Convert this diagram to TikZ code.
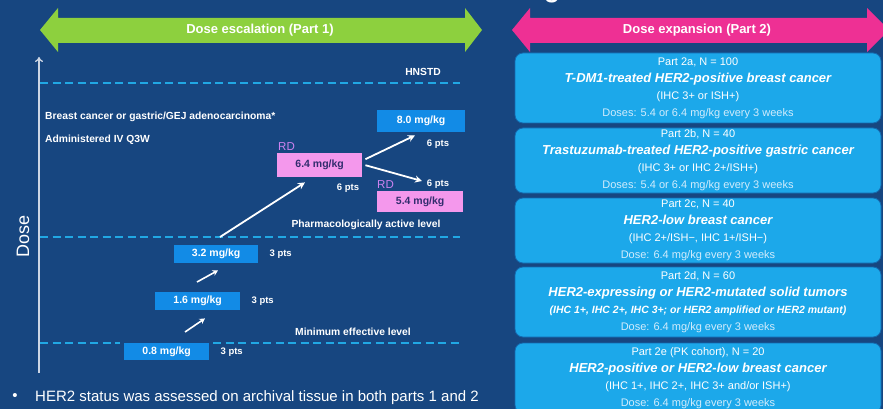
\documentclass[tikz,border=0pt]{standalone}
\usepackage{fontspec}
\setmainfont{Liberation Sans}
\usepackage{xcolor}
\usetikzlibrary{positioning, arrows.meta}

\definecolor{slidebg}{RGB}{23,70,128}
\definecolor{escgreen}{RGB}{141,208,62}
\definecolor{exppink}{RGB}{238,48,148}
\definecolor{levelblue}{RGB}{33,168,228}
\definecolor{doseblue}{RGB}{18,139,230}
\definecolor{rdpink}{RGB}{244,152,236}
\definecolor{rdtext}{RGB}{50,45,110}
\definecolor{rdviolet}{RGB}{205,130,240}
\definecolor{axisgrey}{RGB}{205,214,228}
\definecolor{cohortblue}{RGB}{28,168,234}
\definecolor{cohortedge}{RGB}{20,105,175}
\definecolor{doselight}{RGB}{210,236,252}

\newcommand{\fsz}[1]{\fontsize{#1}{17}\selectfont}
\newcommand{\ctitle}[1]{{\bfseries\itshape\fsz{13}#1}}
\newcommand{\cdose}[1]{{\color{doselight}#1}}

\begin{document}
\begin{tikzpicture}[x=1pt, y=-1pt]
    % Styles
    \tikzstyle{banner}=[text=white, font=\bfseries\fsz{13}, inner sep=0pt]
    \tikzstyle{level line}=[levelblue, line width=2.5pt, dash pattern=on 8pt off 4.5pt]
    \tikzstyle{note}=[text=white, font=\bfseries\fsz{10.3}, inner sep=0pt]
    \tikzstyle{dosebox}=[fill=doseblue, text=white, font=\bfseries\fsz{10.5}, inner sep=0pt, anchor=north west]
    \tikzstyle{rdbox}=[dosebox, fill=rdpink, text=rdtext]
    \tikzstyle{pts}=[text=white, font=\bfseries\fsz{9.5}, inner sep=0pt]
    \tikzstyle{rd}=[text=rdviolet, font=\fsz{11.5}, inner sep=0pt]
    \tikzstyle{dose arrow}=[white, line width=1.8pt, -{Stealth[length=7pt, width=7pt]}]
    \tikzstyle{small arrow}=[white, line width=1.6pt, -{Stealth[length=5.5pt, width=6pt]}]
    \tikzstyle{cohort}=[fill=cohortblue, draw=cohortedge, line width=0.8pt, rounded corners=8pt,
        minimum width=366pt, text=white, align=center, font=\fsz{11}, inner sep=0pt]

    % Slide background
    \useasboundingbox (0,0) rectangle (883,409);
    \fill[slidebg] (0,0) rectangle (883,409);

    % Cut-off title
    \node[text=white, font=\bfseries\fsz{26}, anchor=base, inner sep=0pt] (ttlfrag) at (552,-2) {g};

    % Part 1 banner
    \fill[escgreen] (40,30) -- (58,8) -- (58,18) -- (465,18) -- (465,8) -- (482,30)
        -- (465,52) -- (465,43) -- (58,43) -- (58,52) -- cycle;
    \node[banner] (esc) at (260,30) {Dose escalation (Part 1)};

    % Part 2 banner
    \fill[exppink] (512,30) -- (530,8) -- (530,18) -- (867,18) -- (867,8) -- (889,30)
        -- (867,52) -- (867,43) -- (530,43) -- (530,52) -- cycle;
    \node[banner] (expn) at (697,30) {Dose expansion (Part 2)};

    % Dose axis
    \draw[axisgrey, line width=1.3pt, -{To[length=5pt, width=8pt]}] (39,373) -- (39,57);
    \node[rotate=90, text=white, font=\fsz{18}, inner sep=0pt] (doseax) at (23,236) {Dose};

    % Levels
    \draw[level line] (40,83) -- (460,83);
    \node[note] (hnstd) at (423,72) {HNSTD};
    \draw[level line] (40,237) -- (460,237);
    \node[note] (pal) at (366,225) {Pharmacologically active level};
    \node[note] (mel) at (353,332) {Minimum effective level};

    % Population notes
    \node[note, anchor=west] (pop) at (45,117) {Breast cancer or gastric/GEJ adenocarcinoma*};
    \node[note, anchor=west] (admin) at (45,140) {Administered IV Q3W};

    % Dose levels
    \node[dosebox, minimum width=85pt, minimum height=17pt] (d08) at (124,343) {0.8 mg/kg};
    \draw[level line] (40,343) -- (120,343);
    \draw[level line] (213,343) -- (460,343);
    \node[dosebox, minimum width=85pt, minimum height=18pt] (d16) at (155,292) {1.6 mg/kg};
    \node[dosebox, minimum width=84pt, minimum height=18pt] (d32) at (174,245) {3.2 mg/kg};
    \node[rdbox, minimum width=85pt, minimum height=24pt] (d64) at (277,153) {6.4 mg/kg};
    \node[rdbox, minimum width=86pt, minimum height=21pt] (d54) at (377,191) {5.4 mg/kg};
    \node[dosebox, minimum width=88pt, minimum height=22pt] (d80) at (377,110) {8.0 mg/kg};

    % RD labels
    \node[rd, above right=2pt and 1pt of d64.north west, anchor=south west] (rd64) {RD};
    \node[rd, above right=2pt and 0pt of d54.north west, anchor=south west] (rd54) {RD};

    % Patients
    \node[pts, right=11pt of d08] (n08) {3 pts};
    \node[pts, right=11pt of d16] (n16) {3 pts};
    \node[pts, right=11pt of d32] (n32) {3 pts};
    \node[pts] (n64) at (348,188) {6 pts};
    \node[pts] (n54) at (438,184) {6 pts};
    \node[pts] (n80) at (438,144) {6 pts};

    % Escalation steps
    \draw[small arrow] ([xshift=61pt, yshift=11pt]d08.north west) -- ([xshift=50pt, yshift=-8pt]d16.south west);
    \draw[small arrow] ([xshift=42pt, yshift=10pt]d16.north west) -- ([xshift=44pt, yshift=-7pt]d32.south west);
    \draw[dose arrow] ([xshift=46pt, yshift=8pt]d32.north west) -- ([xshift=28pt, yshift=-5pt]d64.south west);
    \draw[dose arrow] ([xshift=3pt, yshift=6pt]d64.east) -- ([xshift=38pt, yshift=-3pt]d80.south west);
    \draw[dose arrow] ([xshift=3pt]d64.east) -- ([xshift=45pt, yshift=10pt]d54.north west);

    % Bullet
    \node[text=white, font=\fsz{15}, inner sep=0pt] (blt) at (15,397) {•};
    \node[text=white, font=\fsz{15}, inner sep=0pt, anchor=west] (her2note) at (35,398)
        {HER2 status was assessed on archival tissue in both parts 1 and 2};

    % Expansion cohorts
    \node[cohort, minimum height=70pt] (p2a) at (698,88)
        {Part 2a, N = 100\\ \ctitle{T-DM1-treated HER2-positive breast cancer}\\
         (IHC 3+ or ISH+)\\ \cdose{Doses: 5.4 or 6.4 mg/kg every 3 weeks}};
    \node[cohort, minimum height=65pt] (p2b) at (698,160.5)
        {Part 2b, N = 40\\ \ctitle{Trastuzumab-treated HER2-positive gastric cancer}\\
         (IHC 3+ or IHC 2+/ISH+)\\ \cdose{Doses: 5.4 or 6.4 mg/kg every 3 weeks}};
    \node[cohort, minimum height=65pt] (p2c) at (698,230.5)
        {Part 2c, N = 40\\ \ctitle{HER2-low breast cancer}\\
         (IHC 2+/ISH−, IHC 1+/ISH−)\\ \cdose{Dose: 6.4 mg/kg every 3 weeks}};
    \node[cohort, minimum height=70pt] (p2d) at (698,302)
        {Part 2d, N = 60\\ \ctitle{HER2-expressing or HER2-mutated solid tumors}\\
         {\bfseries\itshape\fsz{10.5}(IHC 1+, IHC 2+, IHC 3+; or HER2 amplified or HER2 mutant)}\\
         \cdose{Dose: 6.4 mg/kg every 3 weeks}};
    \node[cohort, minimum height=70pt] (p2e) at (698,378)
        {Part 2e (PK cohort), N = 20\\ \ctitle{HER2-positive or HER2-low breast cancer}\\
         (IHC 1+, IHC 2+, IHC 3+ and/or ISH+)\\ \cdose{Dose: 6.4 mg/kg every 3 weeks}};
\end{tikzpicture}
\end{document}
